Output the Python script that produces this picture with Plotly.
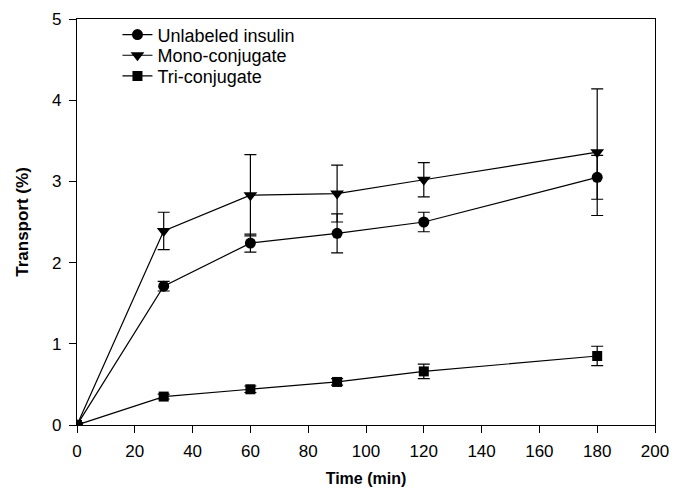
import plotly.graph_objects as go

time = [0, 30, 60, 90, 120, 180]

unlabeled = [0, 1.71, 2.24, 2.36, 2.50, 3.05]
unlabeled_err = [0, 0.06, 0.11, 0.24, 0.12, 0.27]

mono = [0, 2.39, 2.83, 2.85, 3.02, 3.36]
mono_err = [0, 0.23, 0.50, 0.35, 0.21, 0.78]

tri = [0, 0.35, 0.44, 0.53, 0.66, 0.85]
tri_err = [0, 0.03, 0.04, 0.04, 0.09, 0.12]

names = ["Unlabeled insulin", "Mono-conjugate", "Tri-conjugate"]
symbols = ["circle", "triangle-down", "square"]
sizes = [11, 12, 10]
legend_ids = ["legend", "legend2", "legend3"]
legend_y = [0.961, 0.910, 0.859]

fig = go.Figure()
for name, ys, errs, sym, sz, lg in zip(names, [unlabeled, mono, tri],
                                       [unlabeled_err, mono_err, tri_err],
                                       symbols, sizes, legend_ids):
    fig.add_trace(go.Scatter(
        x=time, y=ys, name=name, mode="lines+markers",
        line=dict(color="black", width=1.2),
        marker=dict(symbol=sym, size=sz, color="black"),
        error_y=dict(type="data", array=errs, visible=True, color="black",
                     thickness=1.2, width=6),
        legend=lg,
    ))

axis_common = dict(
    showline=True, linecolor="black", linewidth=1.2, mirror=True,
    ticks="outside", ticklen=7, tickcolor="black", tickwidth=1,
    showgrid=False, zeroline=False, automargin=False,
    tickfont=dict(family="Liberation Sans, Arial", size=17, color="black"),
)

legend_style = dict(x=0.07, xanchor="left", yanchor="middle",
                    bgcolor="rgba(0,0,0,0)", font=dict(size=18),
                    tracegroupgap=0, itemwidth=30)

fig.update_layout(
    width=675, height=489,
    margin=dict(l=77, r=20, t=19, b=64),
    paper_bgcolor="white", plot_bgcolor="white",
    font=dict(family="Liberation Sans, Arial", color="black"),
    xaxis=dict(range=[0, 200], dtick=20, ticklabelstandoff=3,
               title=dict(text="<b>Time (min)</b>", font=dict(size=16), standoff=13),
               **axis_common),
    yaxis=dict(range=[0, 5], dtick=1, ticklabelstandoff=4,
               title=dict(text="<b>Transport (%)</b>", font=dict(size=17), standoff=19),
               **axis_common),
    legend=dict(y=legend_y[0], **legend_style),
    legend2=dict(y=legend_y[1], **legend_style),
    legend3=dict(y=legend_y[2], **legend_style),
    showlegend=True,
)

fig.write_html("out.html")
